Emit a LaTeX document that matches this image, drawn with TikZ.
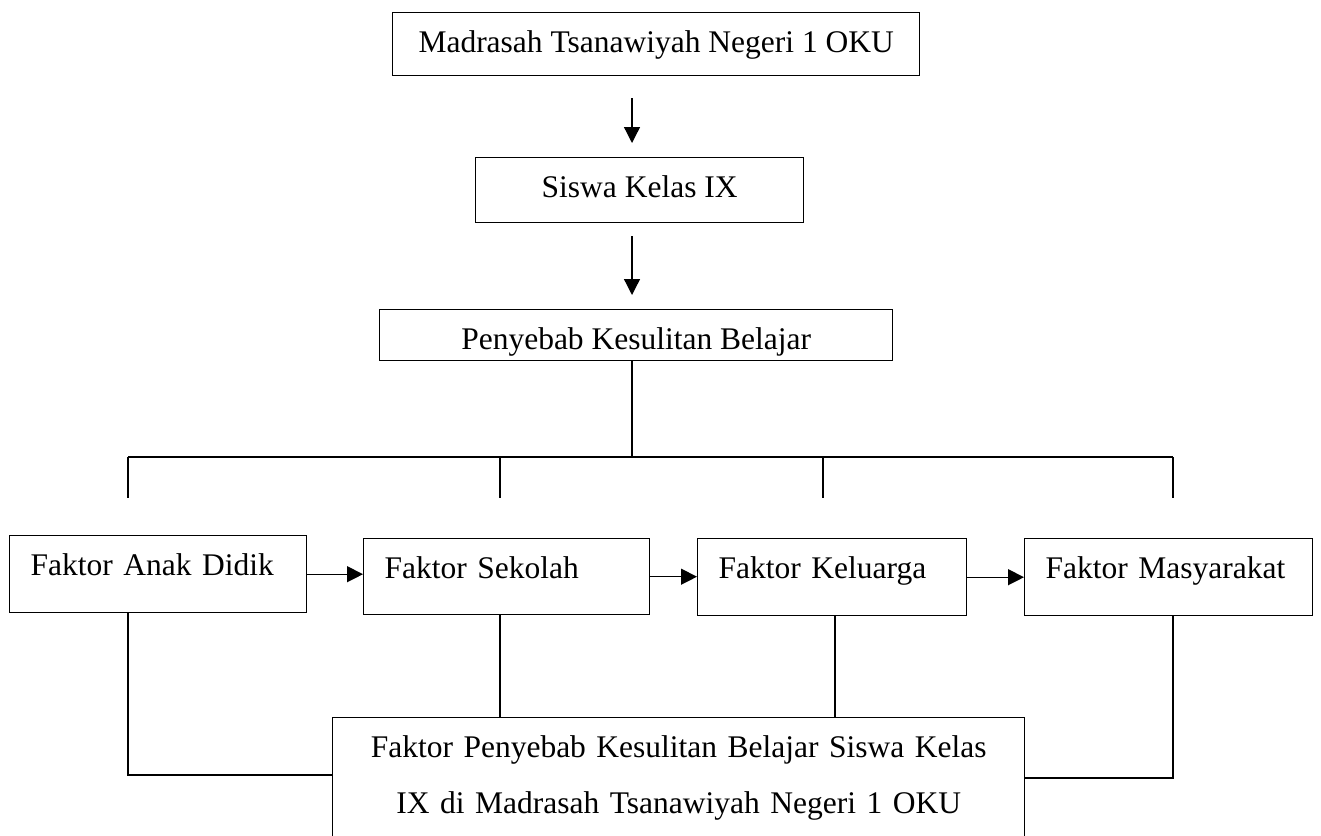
\documentclass[tikz,border=0pt]{standalone}
\usepackage{fontspec}
\setmainfont{Liberation Serif}
\usepackage{tikz}
\usetikzlibrary{arrows.meta,calc}

\tikzset{
  box/.style={draw, line width=1.4pt, anchor=north west, inner sep=0pt, text height=40pt},
  faktor/.style={box, inner xsep=21pt, align=left, text depth=37pt},
  link/.style={line width=1.3pt}
}

\begin{document}
\begin{tikzpicture}[x=1pt, y=-1pt, >={Triangle[length=16pt,width=16pt]},
    font=\fontsize{31.5}{56}\selectfont]
    \useasboundingbox (0,0) rectangle (1321,835);
    \clip (0,0) rectangle (1321,835);

    % Top chain
    \node[box, minimum width=527pt, text depth=23pt] (madrasah) at (392,12) {Madrasah Tsanawiyah Negeri 1 OKU};
    \node[box, minimum width=328pt, text depth=25pt] (siswa) at (475,157) {Siswa Kelas IX};
    \node[box, minimum width=513pt, text depth=11pt] (penyebab) at (379,309) {Penyebab Kesulitan Belajar};

    \coordinate (spine) at (632,0);
    \draw[link, ->, shorten <=22pt, shorten >=14pt] (madrasah.south -| spine) -- (siswa.north -| spine);
    \draw[link, ->, shorten <=13pt, shorten >=14pt] (siswa.south -| spine) -- (penyebab.north -| spine);

    % Branches
    \coordinate (bus) at (632,457);
    \draw[link] (penyebab.south -| bus) -- (bus);
    \foreach \x/\n in {128/a, 500/b, 823/c, 1173/d} {
        \coordinate (up-\n) at (\x,457);
        \coordinate (dn-\n) at (\x,498);
    }
    \draw[link] (up-a) -- (up-d);
    \foreach \n in {a,b,c,d}
        \draw[link] (up-\n) -- (dn-\n);

    % Factors
    \node[faktor, text width=255pt] (anak) at (9,535) {Faktor Anak Didik};
    \node[faktor, text width=244pt, text depth=36pt] (sekolah) at (363,538) {Faktor Sekolah};
    \node[faktor, text width=227pt] (keluarga) at (697,538) {Faktor Keluarga};
    \node[faktor, text width=246pt] (masyarakat) at (1024,538) {Faktor Masyarakat};

    \draw[link, ->] (anak.east) -- (anak.east -| sekolah.west);
    \draw[link, ->] (sekolah.east) -- (sekolah.east -| keluarga.west);
    \draw[link, ->] (keluarga.east) -- (keluarga.east -| masyarakat.west);

    % Result
    \node[draw, line width=1.4pt, anchor=north west, inner xsep=0pt, inner ysep=17.5pt,
        text width=692pt, align=center, text depth=100pt] (hasil) at (332,717)
        {Faktor Penyebab Kesulitan Belajar Siswa Kelas\\IX di Madrasah Tsanawiyah Negeri 1 OKU};

    \coordinate (joinL) at (128,775);
    \coordinate (joinR) at (1173,778);
    \coordinate (lowB) at (500,717);
    \coordinate (lowC) at (835,717);
    \draw[link] (anak.south -| joinL) -- (joinL) -- (joinL -| hasil.west);
    \draw[link] (masyarakat.south -| joinR) -- (joinR) -- (joinR -| hasil.east);
    \draw[link] (sekolah.south -| lowB) -- (lowB);
    \draw[link] (keluarga.south -| lowC) -- (lowC);
\end{tikzpicture}
\end{document}
